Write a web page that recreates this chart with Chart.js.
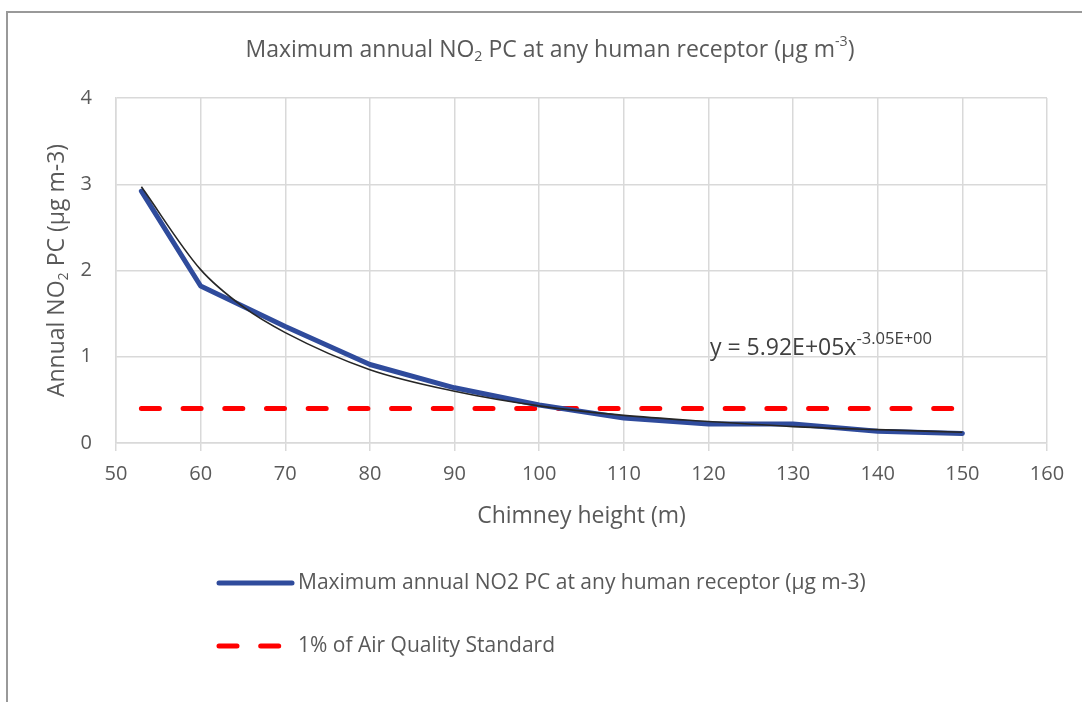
<!DOCTYPE html>
<html>
<head>
<meta charset="utf-8">
<script src="https://cdn.jsdelivr.net/npm/chart.js@4.4.1/dist/chart.umd.min.js"></script>
<style>
    html, body { margin: 0; padding: 0; background: #fff; }
    #wrap { position: relative; width: 1082px; height: 702px; }
</style>
</head>
<body>
<div id="wrap"><canvas id="no2-chart" width="1082" height="702"></canvas></div>
<script>
    "use strict";

    // Chart data
    const chimneyHeights = [53, 60, 70, 80, 90, 100, 110, 120, 130, 140, 150];
    const maxAnnualPC = [2.92, 1.82, 1.35, 0.91, 0.64, 0.44, 0.29, 0.22, 0.22, 0.135, 0.11];

    const standardHeights = [53, 150];
    const standardPC = [0.4, 0.4];

    // Excel power trendline
    const trendHeights = [53, 60, 65, 70, 80, 90, 100, 110, 120, 130, 140, 150];
    const trendPC = [2.97, 2.01, 1.58, 1.28, 0.85, 0.60, 0.43, 0.32, 0.25, 0.19, 0.155, 0.125];

    const xTickLabels = [50, 60, 70, 80, 90, 100, 110, 120, 130, 140, 150, 160];
    const yTickLabels = [0, 1, 2, 3, 4];

    const seriesNames = ['Maximum annual NO2 PC at any human receptor (\u00b5g m-3)', '1% of Air Quality Standard'];
    const trendLabel = [['y = 5.92E+05x'], ['-3.05E+00', 'sup']];
    const chartTitle = [['Maximum annual NO'], ['2', 'sub'], [' PC at any human receptor (\u00b5g m'], ['-3', 'sup'], [')']];
    const yTitle = [['Annual NO'], ['2', 'sub'], [' PC (\u00b5g m-3)']];
    const xTitle = 'Chimney height (m)';

    const FONT = '"Open Sans", "Noto Sans", sans-serif';
    const TEXT_GREY = '#595959';
    const GRID = '#d9d9d9';

    function toPoints(xs, ys) {
        return xs.map((x, i) => ({ x: x, y: ys[i] }));
    }

    // Draw text with sub / superscript pieces
    function drawRich(ctx, parts, x, y, size, align, ratio) {
        const small = size * (ratio || 0.62);
        let total = 0;
        parts.forEach(p => {
            ctx.font = (p[1] ? small : size) + 'px ' + FONT;
            total += ctx.measureText(p[0]).width;
        });
        let cx = align === 'center' ? x - total / 2 : x;
        ctx.textAlign = 'left';
        ctx.textBaseline = 'middle';
        parts.forEach(p => {
            let dy = 0;
            if (p[1] === 'sub') dy = size * 0.32;
            if (p[1] === 'sup') dy = -size * 0.36;
            ctx.font = (p[1] ? small : size) + 'px ' + FONT;
            ctx.fillText(p[0], cx, y + dy);
            cx += ctx.measureText(p[0]).width;
        });
    }

    // Titles, trend equation, legend and frame
    const decorPlugin = {
        id: 'decor',
        afterDraw(chart) {
            const ctx = chart.ctx;
            const area = chart.chartArea;
            ctx.save();

            // frame
            ctx.strokeStyle = '#999999';
            ctx.lineWidth = 2;
            ctx.beginPath();
            ctx.moveTo(7, 702);
            ctx.lineTo(7, 12);
            ctx.lineTo(1082, 12);
            ctx.stroke();

            ctx.fillStyle = TEXT_GREY;
            drawRich(ctx, chartTitle, 550, 50, 23, 'center');

            ctx.font = '23px ' + FONT;
            ctx.textAlign = 'center';
            ctx.textBaseline = 'middle';
            ctx.fillText(xTitle, (area.left + area.right) / 2, 516);

            ctx.save();
            ctx.translate(57, (area.top + area.bottom) / 2);
            ctx.rotate(-Math.PI / 2);
            drawRich(ctx, yTitle, 0, 0, 23, 'center');
            ctx.restore();

            ctx.fillStyle = '#404040';
            drawRich(ctx, trendLabel, 710, 348, 23, 'left', 0.72);

            // legend
            const rows = [[0, 583], [1, 646]];
            rows.forEach(r => {
                const ds = chart.data.datasets[r[0]];
                ctx.strokeStyle = ds.borderColor;
                ctx.lineWidth = ds.borderWidth;
                ctx.lineCap = 'round';
                ctx.setLineDash(ds.borderDash || []);
                ctx.beginPath();
                ctx.moveTo(219, r[1]);
                ctx.lineTo(r[0] === 0 ? 292 : 284, r[1]);
                ctx.stroke();
                ctx.setLineDash([]);
                ctx.fillStyle = TEXT_GREY;
                ctx.font = '21px ' + FONT;
                ctx.textAlign = 'left';
                ctx.textBaseline = 'middle';
                ctx.fillText(seriesNames[r[0]], 298, r[1]);
            });
            ctx.restore();
        }
    };

    const ctx = document.getElementById('no2-chart');
    new Chart(ctx, {
        type: 'line',
        data: {
            datasets: [{
                label: seriesNames[0],
                data: toPoints(chimneyHeights, maxAnnualPC),
                borderColor: '#2f4b9c',
                borderWidth: 5,
                borderCapStyle: 'round',
                borderJoinStyle: 'round',
                pointRadius: 0,
                order: 1
            }, {
                label: seriesNames[1],
                data: toPoints(standardHeights, standardPC),
                borderColor: '#ff0000',
                borderWidth: 5,
                borderDash: [18, 23.7],
                borderCapStyle: 'round',
                pointRadius: 0,
                order: 2
            }, {
                label: 'trend',
                data: toPoints(trendHeights, trendPC),
                borderColor: '#262626',
                borderWidth: 1.6,
                cubicInterpolationMode: 'monotone',
                pointRadius: 0,
                order: 0
            }]
        },
        options: {
            responsive: false,
            animation: false,
            layout: { padding: { top: 98, right: 35, left: 0, bottom: 0 } },
            plugins: {
                legend: { display: false },
                title: { display: false },
                tooltip: { enabled: false }
            },
            scales: {
                x: {
                    type: 'linear',
                    min: xTickLabels[0],
                    max: xTickLabels[xTickLabels.length - 1],
                    afterBuildTicks: s => { s.ticks = xTickLabels.map(v => ({ value: v })); },
                    afterFit: s => { s.height = 259; },
                    grid: { color: GRID, lineWidth: 1.5, tickLength: 8 },
                    border: { color: GRID, width: 1.5 },
                    ticks: { color: TEXT_GREY, font: { family: FONT, size: 20 }, padding: 11, maxRotation: 0 }
                },
                y: {
                    min: yTickLabels[0],
                    max: yTickLabels[yTickLabels.length - 1],
                    afterBuildTicks: s => { s.ticks = yTickLabels.map(v => ({ value: v })); },
                    afterFit: s => { s.width = 116; },
                    grid: { color: GRID, lineWidth: 1.5, drawTicks: false },
                    border: { color: GRID, width: 1.5 },
                    ticks: { color: TEXT_GREY, font: { family: FONT, size: 20 }, padding: 24 }
                }
            }
        },
        plugins: [decorPlugin]
    });
</script>
</body>
</html>
